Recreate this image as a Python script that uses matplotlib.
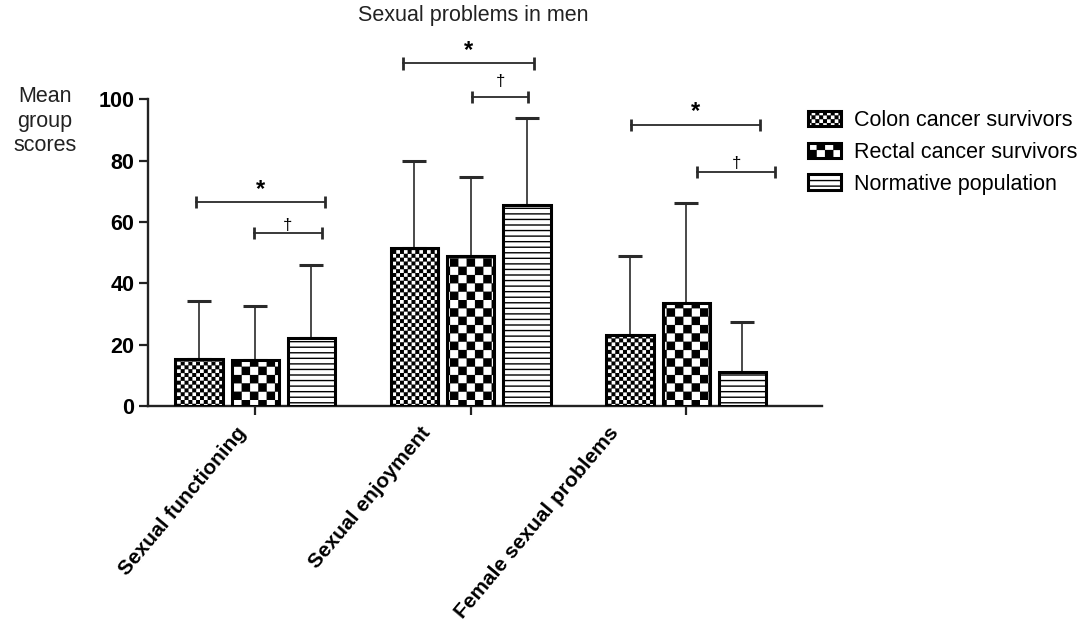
import matplotlib
matplotlib.use('Agg')
import matplotlib.pyplot as plt
import matplotlib.hatch as mhatch
from matplotlib.path import Path
from matplotlib.transforms import ScaledTranslation
import numpy as np

# ── data ────────────────────────────────────────────────────────────────────
categories = ['Sexual functioning', 'Sexual enjoyment', 'Female sexual problems']
groups = ['Colon cancer survivors', 'Rectal cancer survivors', 'Normative population']
colon_mean = [15.3, 51.4, 23.1]
colon_sd = [18.9, 28.5, 25.9]
rectal_mean = [15.1, 48.9, 33.5]
rectal_sd = [17.6, 25.8, 32.8]
norm_mean = [22.1, 65.5, 11.2]
norm_sd = [23.9, 28.3, 16.3]
yticks = [0, 20, 40, 60, 80, 100]

# significance brackets: span around group centre, height, label
star_span = [(-0.277, 0.322), (-0.314, 0.295), (-0.256, 0.343)]
star_y = [66.4, 111.7, 91.6]
dagger_span = [(-0.007, 0.308), (0.006, 0.267), (0.050, 0.412)]
dagger_y = [56.5, 100.7, 76.2]
dagger_off = [5.5, 11.0, 6.5]

# horizontal nudge (inches) of each rotated category label
label_shift = [-0.20, -0.51, -0.78]


# ── checkerboard hatch ('c' fine, 'C' coarse) ───────────────────────────────
class CheckerHatch(mhatch.HatchPatternBase):
    def __init__(self, hatch, density):
        self.n = 26 * hatch.count('c') + 12 * hatch.count('C')
        self.num_vertices = 5 * (self.n * self.n // 2)

    def set_vertices_and_codes(self, vertices, codes):
        s = 1.0 / self.n
        d = 0.006
        k = 0
        for i in range(self.n):
            for j in range(self.n):
                if (i + j) % 2:
                    continue
                x0, y0 = i * s + d, j * s + d
                x1, y1 = (i + 1) * s - d, (j + 1) * s - d
                vertices[k:k + 5] = [(x0, y0), (x1, y0), (x1, y1), (x0, y1), (x0, y0)]
                codes[k:k + 5] = [Path.MOVETO, Path.LINETO, Path.LINETO,
                                  Path.LINETO, Path.CLOSEPOLY]
                k += 5


mhatch._hatch_types.append(CheckerHatch)
mhatch._validate_hatch_pattern = lambda hatch: None

plt.rcParams['font.family'] = ['Liberation Sans', 'DejaVu Sans']
plt.rcParams['hatch.color'] = 'black'
plt.rcParams['hatch.linewidth'] = 1.0

fig = plt.figure(figsize=(10.92, 6.26), dpi=100)
ax = fig.add_axes([147.5 / 1092, 220 / 626, 674.5 / 1092, 306.7 / 626])

x = np.arange(len(categories))
off = 0.261
w = 0.219
series = [(colon_mean, colon_sd, 'c'), (rectal_mean, rectal_sd, 'C'), (norm_mean, norm_sd, '---')]
handles = []
for k, (m, sd, h) in enumerate(series):
    xs = x + (k - 1) * off
    b = ax.bar(xs, m, w, facecolor='white', edgecolor='black', linewidth=2.2,
               hatch=h, zorder=3, label=groups[k])
    handles.append(b)
    ax.errorbar(xs, m, yerr=[np.zeros(len(m)), sd], fmt='none', ecolor='#2a2a2a',
                elinewidth=1.2, capsize=8.6, capthick=2.2, zorder=2)

# significance brackets
for g in range(len(categories)):
    for (a, b), y, sym, fs, dy in [(star_span[g], star_y[g], '*', 17, 9.5),
                                   (dagger_span[g], dagger_y[g], '\u2020', 12, dagger_off[g])]:
        x1, x2 = x[g] + a, x[g] + b
        ax.plot([x1, x2], [y, y], color='#2a2a2a', lw=1.3, clip_on=False, zorder=4)
        for xe in (x1, x2):
            ax.plot([xe, xe], [y - 2, y + 2], color='#2a2a2a', lw=2, clip_on=False,
                    zorder=4, solid_capstyle='butt')
        ax.annotate(sym, xy=((x1 + x2) / 2, y), xytext=(0, dy), textcoords='offset points',
                    ha='center', va='center', fontsize=fs,
                    fontweight='bold' if sym == '*' else 'normal', annotation_clip=False)

ax.set_xlim(-0.5, 2.63)
ax.set_ylim(0, 100)
ax.set_yticks(yticks)
ax.set_xticks(x)
ax.set_xticklabels(categories, rotation=50, ha='right', rotation_mode='anchor',
                   fontsize=15, fontweight='bold')
for lab in ax.get_yticklabels():
    lab.set_fontweight('bold')
    lab.set_fontsize(15.5)
ax.tick_params(axis='both', direction='out', length=6.5, width=1.6, color='#222222')
ax.tick_params(axis='y', pad=3)
ax.tick_params(axis='x', pad=6)
for s in ['top', 'right']:
    ax.spines[s].set_visible(False)
for s in ['left', 'bottom']:
    ax.spines[s].set_linewidth(1.7)
    ax.spines[s].set_color('#222222')

# nudge the rotated category labels left, like the original
for tick, dx in zip(ax.xaxis.get_major_ticks(), label_shift):
    tick.label1.set_transform(tick.label1.get_transform()
                              + ScaledTranslation(dx, 0, fig.dpi_scale_trans))

fig.text(473 / 1092, 1 - 16 / 626, 'Sexual problems in men', ha='center', va='center',
         fontsize=15.5, color='#222222')
fig.text(45 / 1092, 1 - 121 / 626, 'Mean\ngroup\nscores', ha='center', va='center',
         fontsize=15.5, color='#222222', linespacing=1.2)

fig.legend(handles=handles, labels=groups, loc='upper left',
           bbox_to_anchor=(808 / 1092, 1 - 110 / 626), bbox_transform=fig.transFigure,
           frameon=False, fontsize=15.5, handlelength=1.55, handleheight=0.7,
           handletextpad=0.6, labelspacing=0.5, borderpad=0, borderaxespad=0)

fig.savefig('out.png', dpi=100, facecolor='white')
